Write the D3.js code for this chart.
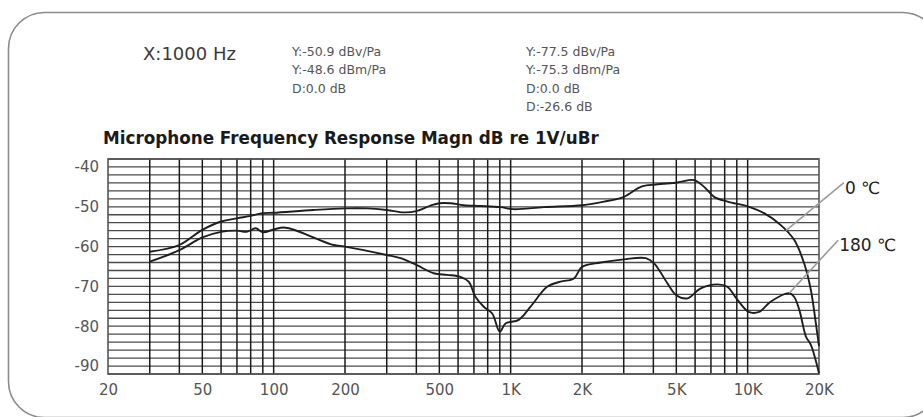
<!DOCTYPE html>
<html>
<head>
<meta charset="utf-8">
<script src="https://cdn.jsdelivr.net/npm/d3@7"></script>
<style>
html,body{margin:0;padding:0;background:#fff;}
svg{display:block;}
text{font-family:"DejaVu Sans",sans-serif;}
</style>
</head>
<body>
<svg id="chart" width="923" height="417"></svg>
<script>
// ---- data ----
const freq0 = [30,40,50,60,70,80,90,100,147,200,247,300,354,400,459,500,557,634,746,906,1025,1381,2005,2477,3008,3540,4096,5057,5944,6551,7219,8220,10140,11730,13800,15710,17310,18480,19400,20000];
const db0   = [-61.3,-59.6,-55.8,-53.7,-52.9,-52.3,-51.6,-51.5,-50.8,-50.4,-50.4,-50.8,-51.4,-51.1,-49.7,-49.1,-49.1,-49.6,-49.8,-50.1,-50.6,-50.1,-49.6,-48.7,-47.5,-45.0,-44.4,-43.9,-43.3,-45.0,-47.5,-48.7,-50.0,-51.6,-54.6,-58.3,-64.2,-70.9,-79.3,-85.0];
const freq180 = [30,40,50,60,70,77,84,90,100,110,121,147,179,200,300,343,400,473,540,614,665,710,770,836,900,951,1082,1213,1426,1623,1849,2000,2398,3000,3717,4030,4584,5000,5570,6340,7460,8200,9060,10100,11170,12530,14970,15700,16520,17620,18480,20000];
const db180   = [-63.8,-60.9,-57.7,-56.3,-56.0,-56.3,-55.4,-56.4,-55.7,-55.2,-55.7,-57.7,-59.6,-60.0,-62.1,-62.9,-64.6,-66.7,-67.1,-67.6,-68.8,-72.6,-75.1,-76.8,-81.4,-79.3,-78.4,-75.1,-70.1,-68.8,-68.0,-65.1,-64.0,-63.2,-62.9,-64.2,-69.2,-72.2,-73.0,-70.5,-69.5,-70.1,-73.4,-76.4,-76.4,-73.8,-71.7,-72.6,-75.9,-82.6,-84.7,-91.8];
const xTickValues = [20,50,100,200,500,1000,2000,5000,10000,20000];
const xTickLabels = ["20","50","100","200","500","1K","2K","5K","10K","20K"];
const xGridValues = [30,40,50,60,70,80,90,100,200,300,400,500,600,700,800,900,1000,2000,3000,4000,5000,6000,7000,8000,9000,10000];
const yTickValues = [-40,-50,-60,-70,-80,-90];
const yGridValues = d3.range(-92,-37,2);
const seriesNames = ["0 \u2103","180 \u2103"];
const calloutFreq = [14500,14970];
const headerMain = "X:1000 Hz";
const headerCol1 = ["Y:-50.9 dBv/Pa","Y:-48.6 dBm/Pa","D:0.0 dB"];
const headerCol2 = ["Y:-77.5 dBv/Pa","Y:-75.3 dBm/Pa","D:0.0 dB","D:-26.6 dB"];
const title = "Microphone Frequency Response Magn dB re 1V/uBr";

// ---- layout ----
const svg = d3.select("#chart");
const L=108, R=819, T=159, B=374;
const x = d3.scaleLog().domain([20,20000]).range([L,R]);
const y = d3.scaleLinear().domain([-92,-38]).range([B,T]);

// outer rounded frame
svg.append("rect").attr("x",8.5).attr("y",12.5).attr("width",930).attr("height",405)
  .attr("rx",36).attr("ry",36).attr("fill","none").attr("stroke","#8c8c8c").attr("stroke-width",1.6);

// header texts
svg.append("text").attr("x",143).attr("y",60).attr("font-size",18).attr("fill","#3a3a3a").text(headerMain);
svg.append("g").selectAll("text").data(headerCol1).join("text")
  .attr("x",292).attr("y",(d,i)=>56+i*18.3).attr("font-size",12.5).attr("fill","#555").text(d=>d);
svg.append("g").selectAll("text").data(headerCol2).join("text")
  .attr("x",526).attr("y",(d,i)=>56+i*18.3).attr("font-size",12.5).attr("fill","#555").text(d=>d);

// title
svg.append("text").attr("x",103).attr("y",144).attr("font-size",16.8).attr("font-weight","bold")
  .attr("fill","#1a1a1a").text(title);

// grid
const g = svg.append("g");
g.selectAll("line.h").data(yGridValues).join("line").attr("class","h")
  .attr("x1",L).attr("x2",R).attr("y1",d=>y(d)).attr("y2",d=>y(d))
  .attr("stroke","#4a4a4a").attr("stroke-width",1.3);
g.selectAll("line.v").data(xGridValues).join("line").attr("class","v")
  .attr("x1",d=>x(d)).attr("x2",d=>x(d)).attr("y1",T).attr("y2",B)
  .attr("stroke","#1a1a1a").attr("stroke-width",1.5);
g.append("rect").attr("x",L).attr("y",T).attr("width",R-L).attr("height",B-T)
  .attr("fill","none").attr("stroke","#555").attr("stroke-width",1.6);

// axes (labels only)
const xAxis = d3.axisBottom(x).tickValues(xTickValues).tickFormat((d,i)=>xTickLabels[i]).tickSize(0).tickPadding(10);
const xa = svg.append("g").attr("transform",`translate(0,${B})`).call(xAxis);
xa.select(".domain").remove();
xa.selectAll("text").attr("font-size",15).attr("fill","#555").attr("font-family","DejaVu Sans");

const yAxis = d3.axisLeft(y).tickValues(yTickValues).tickFormat(d=>String(d)).tickSize(0).tickPadding(9);
const ya = svg.append("g").attr("transform",`translate(${L},0)`).call(yAxis);
ya.select(".domain").remove();
ya.selectAll("text").attr("font-size",15).attr("fill","#555").attr("font-family","DejaVu Sans");

// curves
const line = d3.line().x(d=>x(d[0])).y(d=>y(d[1])).curve(d3.curveCatmullRom.alpha(0.5));
const s0 = freq0.map((f,i)=>[f,db0[i]]);
const s180 = freq180.map((f,i)=>[f,db180[i]]);
[s0,s180].forEach(s=>{
  svg.append("path").datum(s).attr("d",line).attr("fill","none")
    .attr("stroke","#1e1e1e").attr("stroke-width",1.9);
});

// callouts
function interp(fs,ds,f){
  const lf=Math.log10(f);
  for(let i=0;i<fs.length-1;i++){
    const a=Math.log10(fs[i]), b=Math.log10(fs[i+1]);
    if(lf>=a&&lf<=b){return ds[i]+(ds[i+1]-ds[i])*(lf-a)/(b-a);}
  }
  return ds[ds.length-1];
}
const series = [[freq0,db0],[freq180,db180]];
const labelOffsets = [[58,-48],[49,-53]];
series.forEach((s,i)=>{
  const px = x(calloutFreq[i]), py = y(interp(s[0],s[1],calloutFreq[i]));
  const ex = px+labelOffsets[i][0], ey = py+labelOffsets[i][1];
  svg.append("line").attr("x1",px).attr("y1",py).attr("x2",ex).attr("y2",ey)
    .attr("stroke","#9a9a9a").attr("stroke-width",1.6);
  svg.append("text").attr("x",ex+1).attr("y",ey+11).attr("font-size",17).attr("fill","#222")
    .text(seriesNames[i]);
});
</script>
</body>
</html>
